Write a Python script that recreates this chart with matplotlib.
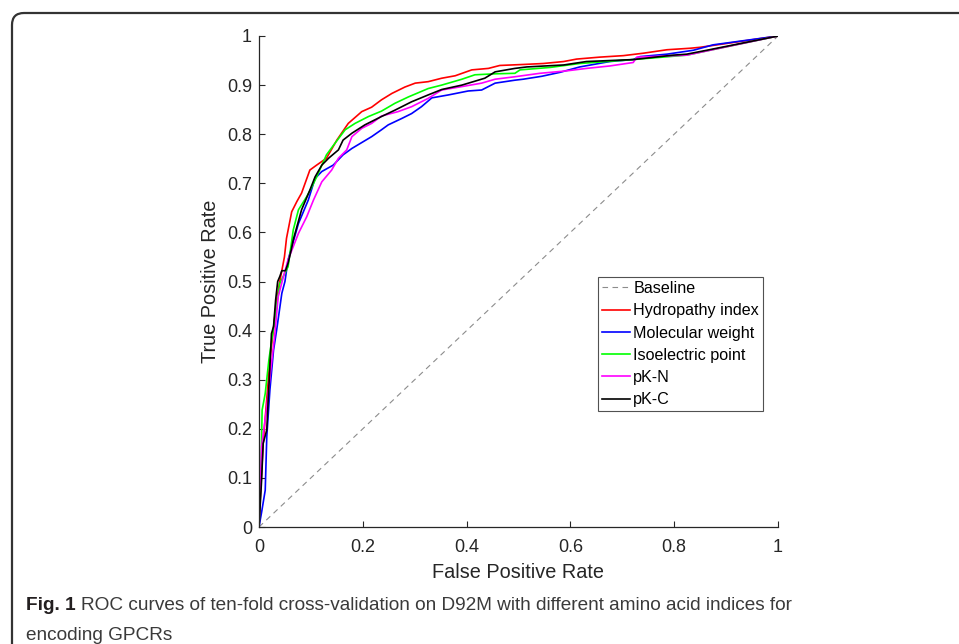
import matplotlib
matplotlib.use('Agg')
import matplotlib.pyplot as plt
from matplotlib.patches import FancyBboxPatch
from matplotlib.transforms import IdentityTransform
from matplotlib.ticker import FormatStrFormatter

# ROC curves (false positive rate, true positive rate)
hydro_fpr = [0, 0.002, 0.008, 0.021, 0.034, 0.040, 0.049, 0.053, 0.063, 0.073, 0.082, 0.098, 0.111,
             0.130, 0.150, 0.172, 0.198, 0.217, 0.236, 0.256, 0.281, 0.301, 0.326, 0.352, 0.378,
             0.410, 0.442, 0.464, 0.509, 0.548, 0.587, 0.612, 0.657, 0.702, 0.741, 0.786, 0.830,
             0.850, 1.0]
hydro_tpr = [0, 0.05, 0.17, 0.34, 0.462, 0.50, 0.55, 0.588, 0.642, 0.663, 0.680, 0.727, 0.737,
             0.751, 0.788, 0.822, 0.846, 0.855, 0.870, 0.883, 0.896, 0.904, 0.907, 0.914, 0.919,
             0.931, 0.934, 0.940, 0.942, 0.944, 0.948, 0.953, 0.957, 0.960, 0.965, 0.972, 0.975,
             0.977, 1.0]

molw_fpr = [0, 0.005, 0.012, 0.015, 0.021, 0.028, 0.034, 0.044, 0.050, 0.056, 0.076, 0.095, 0.108,
            0.121, 0.143, 0.162, 0.179, 0.198, 0.217, 0.236, 0.249, 0.275, 0.294, 0.313, 0.333,
            0.365, 0.403, 0.429, 0.455, 0.493, 0.509, 0.545, 0.580, 0.618, 0.676, 0.721, 0.734,
            0.786, 0.837, 0.875, 1.0]
molw_tpr = [0, 0.03, 0.075, 0.184, 0.279, 0.360, 0.401, 0.476, 0.500, 0.544, 0.618, 0.666, 0.710,
            0.724, 0.737, 0.758, 0.771, 0.783, 0.795, 0.809, 0.819, 0.832, 0.842, 0.856, 0.874,
            0.880, 0.888, 0.890, 0.904, 0.910, 0.912, 0.918, 0.926, 0.937, 0.948, 0.952, 0.958,
            0.963, 0.971, 0.982, 1.0]

iso_fpr = [0, 0.004, 0.006, 0.012, 0.019, 0.031, 0.040, 0.056, 0.066, 0.076, 0.092, 0.102, 0.111,
           0.130, 0.146, 0.166, 0.185, 0.211, 0.236, 0.262, 0.288, 0.326, 0.352, 0.391, 0.416,
           0.455, 0.493, 0.503, 0.561, 0.618, 0.670, 0.721, 0.824, 0.869, 1.0]
iso_tpr = [0, 0.12, 0.238, 0.272, 0.34, 0.428, 0.496, 0.53, 0.605, 0.646, 0.673, 0.693, 0.713,
           0.758, 0.781, 0.809, 0.822, 0.836, 0.847, 0.863, 0.876, 0.893, 0.900, 0.912, 0.921,
           0.923, 0.924, 0.931, 0.936, 0.944, 0.948, 0.952, 0.961, 0.971, 1.0]

pkn_fpr = [0, 0.003, 0.005, 0.015, 0.024, 0.030, 0.037, 0.047, 0.056, 0.076, 0.092, 0.105, 0.121,
           0.140, 0.153, 0.169, 0.179, 0.198, 0.217, 0.236, 0.268, 0.294, 0.326, 0.352, 0.391,
           0.429, 0.455, 0.493, 0.541, 0.593, 0.631, 0.676, 0.721, 0.728, 0.824, 0.869, 1.0]
pkn_tpr = [0, 0.10, 0.164, 0.245, 0.333, 0.388, 0.469, 0.510, 0.544, 0.598, 0.632, 0.666, 0.703,
           0.727, 0.751, 0.768, 0.795, 0.812, 0.822, 0.837, 0.846, 0.856, 0.873, 0.890, 0.897,
           0.904, 0.912, 0.917, 0.924, 0.929, 0.934, 0.939, 0.946, 0.957, 0.961, 0.971, 1.0]

pkc_fpr = [0, 0.005, 0.008, 0.015, 0.018, 0.021, 0.024, 0.028, 0.032, 0.036, 0.040, 0.044, 0.051,
           0.056, 0.062, 0.066, 0.082, 0.098, 0.108, 0.121, 0.134, 0.153, 0.162, 0.179, 0.204,
           0.236, 0.262, 0.294, 0.326, 0.352, 0.391, 0.435, 0.455, 0.493, 0.516, 0.587, 0.631,
           0.721, 0.798, 0.824, 0.863, 1.0]
pkc_tpr = [0, 0.096, 0.17, 0.198, 0.265, 0.326, 0.394, 0.408, 0.462, 0.500, 0.510, 0.522, 0.522,
           0.537, 0.564, 0.585, 0.646, 0.686, 0.713, 0.737, 0.751, 0.768, 0.788, 0.802, 0.819,
           0.836, 0.849, 0.866, 0.880, 0.891, 0.900, 0.914, 0.927, 0.934, 0.937, 0.941, 0.948,
           0.952, 0.961, 0.963, 0.971, 1.0]

baseline = [0, 1]
x_ticks = [0, 0.2, 0.4, 0.6, 0.8, 1]
y_ticks = [0, 0.1, 0.2, 0.3, 0.4, 0.5, 0.6, 0.7, 0.8, 0.9, 1]

plt.rcParams['font.family'] = ['Liberation Sans', 'DejaVu Sans']
txt = '#262626'

fig = plt.figure(figsize=(9.59, 6.44), dpi=100)
ax = fig.add_axes([259 / 959, 117 / 644, 519 / 959, 491 / 644])

ax.plot(baseline, baseline, color='#8c8c8c', lw=0.8, ls=(0, (5, 4)), label='Baseline')
ax.plot(hydro_fpr, hydro_tpr, color='#ff0000', lw=1.2, label='Hydropathy index')
ax.plot(molw_fpr, molw_tpr, color='#0000ff', lw=1.2, label='Molecular weight')
ax.plot(iso_fpr, iso_tpr, color='#00ff00', lw=1.2, label='Isoelectric point')
ax.plot(pkn_fpr, pkn_tpr, color='#ff00ff', lw=1.2, label='pK-N')
ax.plot(pkc_fpr, pkc_tpr, color='#000000', lw=1.2, label='pK-C')

ax.set_xlim(0, 1)
ax.set_ylim(0, 1)
ax.set_xticks(x_ticks)
ax.set_yticks(y_ticks)
ax.xaxis.set_major_formatter(FormatStrFormatter('%g'))
ax.yaxis.set_major_formatter(FormatStrFormatter('%g'))
ax.tick_params(direction='in', length=4, width=0.8, colors=txt, labelsize=13)
ax.tick_params(axis='x', pad=9)
ax.tick_params(axis='y', pad=5)
ax.spines['top'].set_visible(False)
ax.spines['right'].set_visible(False)
for s in ('left', 'bottom'):
    ax.spines[s].set_color(txt)
    ax.spines[s].set_linewidth(0.9)

ax.set_xlabel('False Positive Rate', fontsize=14.3, color=txt, labelpad=5)
ax.set_ylabel('True Positive Rate', fontsize=14.3, color=txt, labelpad=5)

leg = ax.legend(loc='upper left', bbox_to_anchor=(0.653, 0.509), borderaxespad=0,
                fontsize=11.6, frameon=True, fancybox=False, handlelength=1.75,
                handletextpad=0.2, labelspacing=0.45, borderpad=0.25)
leg.get_frame().set_edgecolor('#262626')
leg.get_frame().set_linewidth(0.8)

# journal figure frame (rounded, runs off the right and bottom)
frame = FancyBboxPatch((12, -60), 1100, 691, boxstyle='round,pad=0,rounding_size=12',
                       transform=IdentityTransform(), fill=False, ec='#333333', lw=1.6)
fig.add_artist(frame)

cap_col = '#3a3a3a'
t1 = fig.text(26 / 959, 1 - 610 / 644, 'Fig. 1', fontsize=13.7, fontweight='bold',
              color='#231f20', va='baseline')
fig.canvas.draw()
bb = t1.get_window_extent()
fig.text((bb.x1 + 5) / 959, 1 - 610 / 644,
         'ROC curves of ten-fold cross-validation on D92M with different amino acid indices for',
         fontsize=13.7, color=cap_col, va='baseline')
fig.text(26 / 959, 1 - 640 / 644, 'encoding GPCRs', fontsize=13.7, color=cap_col, va='baseline')

fig.savefig('out.png', dpi=100)
